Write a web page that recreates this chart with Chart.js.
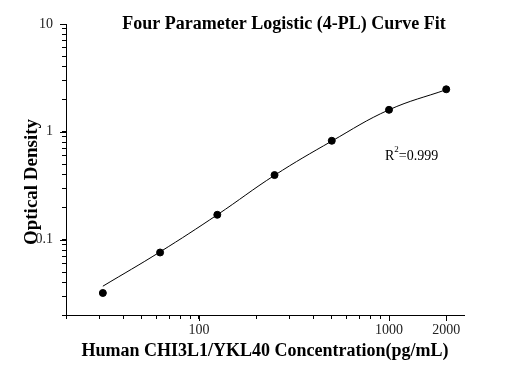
<!DOCTYPE html>
<html>
<head>
<meta charset="utf-8">
<script src="https://cdn.jsdelivr.net/npm/chart.js@4.4.1/dist/chart.umd.min.js"></script>
<style>
  html, body { margin: 0; padding: 0; background: #fff; }
  #wrap { width: 508px; height: 368px; }
</style>
</head>
<body>
<div id="wrap"><canvas id="chart"></canvas></div>
<script>
// standard concentrations (pg/mL) and OD readings
const concentrations = [31.25, 62.5, 125, 250, 500, 1000, 2000];
const odMeasured = [0.032, 0.076, 0.170, 0.397, 0.826, 1.60, 2.48];
// fitted curve at the same concentrations
const odFitted = [0.037, 0.077, 0.170, 0.395, 0.820, 1.60, 2.46];

const xTicks = [20, 30, 40, 50, 60, 70, 80, 90, 100, 200, 300, 400, 500, 600, 700, 800, 900, 1000, 2000];
const xTickLabels = [100, 1000, 2000];
const yTicks = [0.02, 0.03, 0.04, 0.05, 0.06, 0.07, 0.08, 0.09, 0.1, 0.2, 0.3, 0.4, 0.5, 0.6, 0.7, 0.8, 0.9, 1, 2, 3, 4, 5, 6, 7, 8, 9, 10];
const yTickLabels = [0.1, 1, 10];

const serif = "'Liberation Serif', 'Times New Roman', serif";

// chart title, y title, R² note and longer ticks at labelled values
const textPlugin = {
    id: "textPlugin",
    afterDraw(chart) {
        const ctx = chart.ctx;
        const { x, y } = chart.scales;
        ctx.save();

        ctx.strokeStyle = "#000";
        ctx.lineWidth = 1;
        ctx.beginPath();
        xTickLabels.forEach(v => {
            const px = Math.round(x.getPixelForValue(v)) + 0.5;
            ctx.moveTo(px, y.bottom);
            ctx.lineTo(px, y.bottom + 6);
        });
        yTickLabels.forEach(v => {
            const py = Math.round(y.getPixelForValue(v)) + 0.5;
            ctx.moveTo(x.left, py);
            ctx.lineTo(x.left - 6, py);
        });
        ctx.stroke();

        ctx.fillStyle = "#000";
        ctx.textBaseline = "middle";

        ctx.font = "bold 18px " + serif;
        ctx.textAlign = "center";
        ctx.fillText("Four Parameter Logistic (4-PL) Curve Fit", 284, 24);

        ctx.save();
        ctx.translate(32, 182);
        ctx.rotate(-Math.PI / 2);
        ctx.font = "bold 19px " + serif;
        ctx.fillText("Optical Density", 0, 0);
        ctx.restore();

        ctx.textAlign = "left";
        ctx.font = "14px " + serif;
        ctx.fillText("R", 385, 156);
        const rw = ctx.measureText("R").width;
        ctx.font = "9px " + serif;
        ctx.fillText("2", 385 + rw, 150);
        const sw = ctx.measureText("2").width;
        ctx.font = "14px " + serif;
        ctx.fillText("=0.999", 385 + rw + sw, 156);
        ctx.restore();
    }
};

const ctx = document.getElementById("chart").getContext("2d");
new Chart(ctx, {
    type: "scatter",
    data: {
        datasets: [
            {
                label: "fit",
                data: concentrations.map((c, i) => ({ x: c, y: odFitted[i] })),
                showLine: true,
                borderColor: "#000",
                borderWidth: 1,
                pointRadius: 0,
                tension: 0.4,
                order: 2
            },
            {
                label: "standards",
                data: concentrations.map((c, i) => ({ x: c, y: odMeasured[i] })),
                showLine: false,
                backgroundColor: "#000",
                borderColor: "#000",
                pointRadius: 3.5,
                order: 1
            }
        ]
    },
    options: {
        responsive: true,
        maintainAspectRatio: false,
        animation: false,
        layout: { padding: { left: 0, top: 24, right: 44, bottom: 0 } },
        plugins: {
            legend: { display: false },
            tooltip: { enabled: false }
        },
        scales: {
            x: {
                type: "logarithmic",
                min: 20,
                max: 2480,
                afterBuildTicks: (scale) => { scale.ticks = xTicks.map(v => ({ value: v })); },
                afterFit: (scale) => { scale.height = 53; },
                grid: { drawOnChartArea: false, color: "#000", tickColor: "#000", tickLength: 4 },
                border: { color: "#000", width: 1 },
                ticks: {
                    autoSkip: false,
                    maxRotation: 0,
                    padding: 3,
                    color: "#222",
                    font: { family: serif, size: 14 },
                    callback: (v) => xTickLabels.includes(v) ? String(v) : ""
                },
                title: {
                    display: true,
                    text: "Human CHI3L1/YKL40 Concentration(pg/mL)",
                    color: "#000",
                    font: { family: serif, size: 18, weight: "bold" },
                    padding: { top: 0, bottom: 6 }
                }
            },
            y: {
                type: "logarithmic",
                min: 0.02,
                max: 10,
                afterBuildTicks: (scale) => { scale.ticks = yTicks.map(v => ({ value: v })); },
                afterFit: (scale) => { scale.width = 66; },
                grid: { drawOnChartArea: false, color: "#000", tickColor: "#000", tickLength: 4 },
                border: { color: "#000", width: 1 },
                ticks: {
                    autoSkip: false,
                    padding: 9,
                    color: "#222",
                    font: { family: serif, size: 14 },
                    callback: (v) => yTickLabels.includes(v) ? String(v) : ""
                }
            }
        }
    },
    plugins: [textPlugin]
});
</script>
</body>
</html>
